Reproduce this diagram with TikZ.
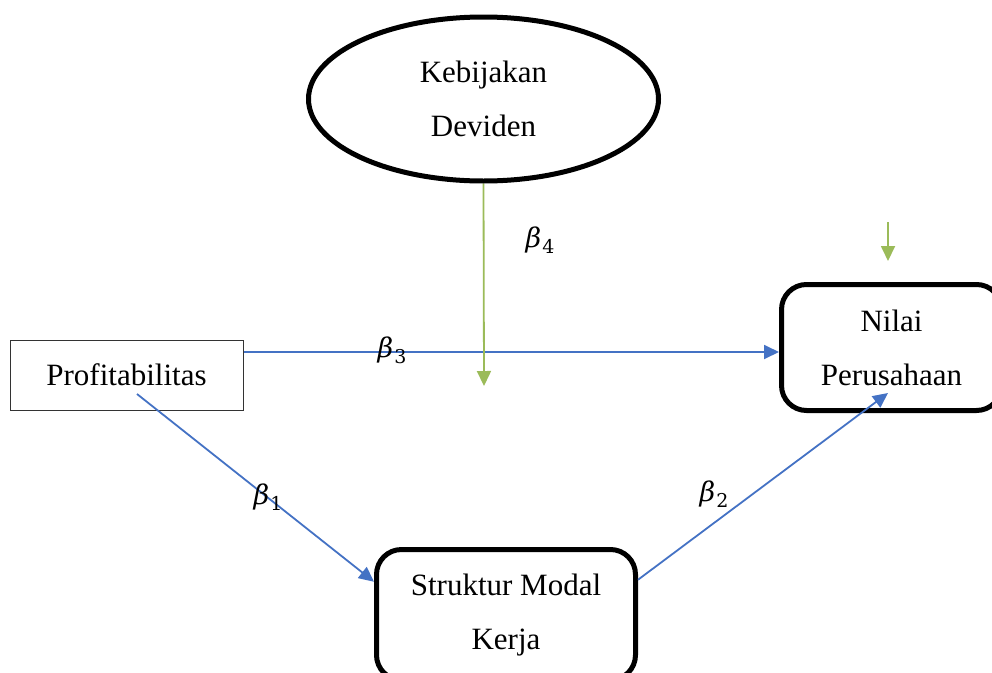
\documentclass[tikz,border=0pt]{standalone}
\usepackage{fontspec}
\setmainfont{Liberation Serif}
\newfontfamily\betafont{DejaVu Serif}
\usetikzlibrary{arrows.meta,shapes.geometric}
\definecolor{lblue}{RGB}{68,114,196}
\definecolor{lgreen}{RGB}{155,187,89}
\newcommand{\bigbeta}[1]{{\betafont\fontsize{27}{27}\selectfont\itshape β}\kern1pt\raisebox{-6pt}{\betafont\fontsize{19}{19}\selectfont #1}}
\begin{document}
\begin{tikzpicture}[x=1pt,y=-1pt,
  txt/.style={font=\fontsize{31}{54}\selectfont, align=center},
  thickbox/.style={draw=black, line width=5pt, rounded corners=25pt, txt, inner sep=0pt},
  bar/.style={line width=1.8pt, -{Triangle[length=15pt,width=14pt]}},
  blueline/.style={bar, draw=lblue},
  greenline/.style={bar, draw=lgreen},
  beta/.style={inner sep=0pt}
]
\useasboundingbox (0,0) rectangle (992,672);
\clip (0,0) rectangle (992,672);
\node[ellipse, draw, line width=5pt, minimum width=350pt, minimum height=164pt, txt, inner sep=0pt] (div) at (483.5,99) {Kebijakan\\Deviden};
\node[thickbox, minimum width=220pt, minimum height=126pt] (nilai) at (891.5,347.5) {Nilai\\Perusahaan};
\node[thickbox, minimum width=259pt, minimum height=130.5pt] (smk) at (506,614.75) {Struktur Modal\\Kerja};
\node[draw=black!80, line width=1pt, minimum width=233pt, minimum height=70pt, txt, inner sep=0pt] (prof) at (126.5,375) {Profitabilitas};
\coordinate (p1) at (137,394);
\coordinate (n1) at (888,393);
\coordinate (g1) at (484,386);
\coordinate (s1) at (888,222);
\coordinate (s2) at (888,261);
\draw[blueline] ([yshift=23pt]prof.east) -- ([yshift=-4.5pt]nilai.west);
\draw[blueline] (p1) -- ([yshift=33pt]smk.west);
\draw[blueline] ([yshift=35pt]smk.east) -- (n1);
\draw[greenline] (div.south) -- (g1);
\draw[greenline] (s1) -- (s2);
\node[beta] (b4) at (540,240) {\bigbeta{4}};
\node[beta] (b3) at (392,350) {\bigbeta{3}};
\node[beta] (b1) at (268,497) {\bigbeta{1}};
\node[beta] (b2) at (714,494) {\bigbeta{2}};
\end{tikzpicture}
\end{document}
